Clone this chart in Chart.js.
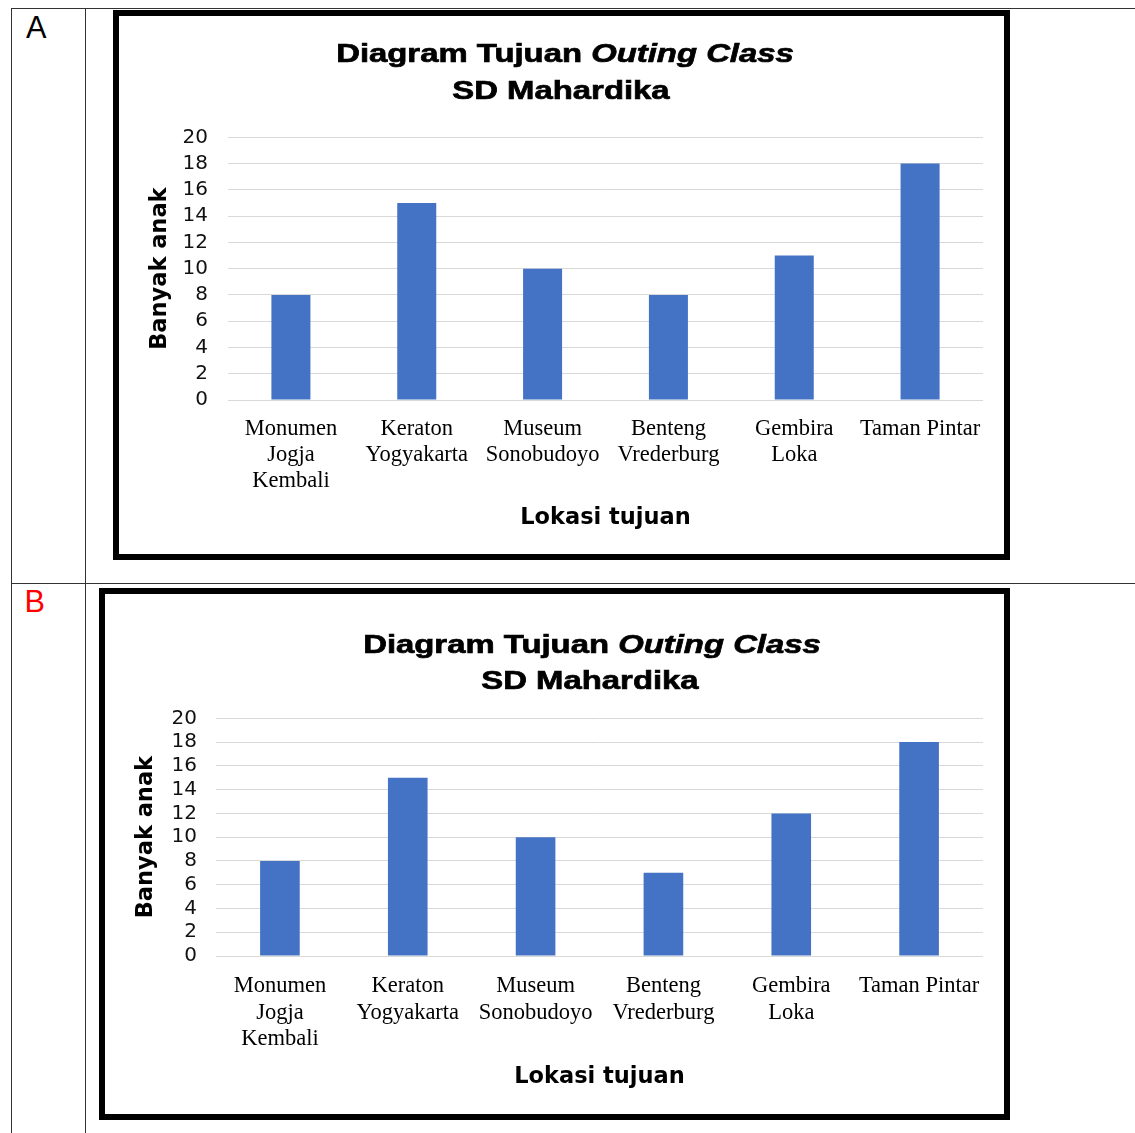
<!DOCTYPE html>
<html><head><meta charset="utf-8">
<script src="https://cdn.jsdelivr.net/npm/chart.js@4.4.1/dist/chart.umd.min.js"></script>
<style>
html,body{margin:0;padding:0;background:#fff;}
body{width:1135px;height:1133px;position:relative;overflow:hidden;font-family:'Liberation Sans',Arial,sans-serif;}
.ln{position:absolute;background:#333;}
.frame{position:absolute;box-sizing:border-box;border:6px solid #000;background:#fff;}
.frame canvas{position:absolute;left:0;top:0;}
.ttl{position:absolute;white-space:nowrap;font-weight:bold;font-size:26.5px;line-height:26.5px;color:#000;-webkit-text-stroke:0.7px #000;transform:translateX(-50%) scaleX(1.24);}
.ttl i{font-style:italic;}
.tag{position:absolute;font-size:30.7px;line-height:30.7px;}
</style></head>
<body>
<div class="ln" style="left:11px;top:8px;width:1124px;height:1px;"></div>
<div class="ln" style="left:11px;top:583px;width:1124px;height:1px;"></div>
<div class="ln" style="left:11px;top:8px;width:1px;height:1125px;"></div>
<div class="ln" style="left:85px;top:8px;width:1px;height:1125px;"></div>
<div class="tag" style="left:26px;top:13px;color:#000;">A</div>
<div class="tag" style="left:24.5px;top:587px;color:#ff0000;">B</div>

<div class="frame" style="left:113px;top:10px;width:897px;height:550px;">
  <canvas id="chartA" width="885" height="538"></canvas>
</div>
<div class="frame" style="left:99px;top:588px;width:911px;height:532px;">
  <canvas id="chartB" width="899" height="520"></canvas>
</div>

<div class="ttl" style="left:565px;top:40px;">Diagram Tujuan <i>Outing Class</i></div>
<div class="ttl" style="left:561px;top:76.5px;">SD Mahardika</div>
<div class="ttl" style="left:592px;top:630.5px;">Diagram Tujuan <i>Outing Class</i></div>
<div class="ttl" style="left:590px;top:666.5px;">SD Mahardika</div>

<script>
const categories = [
  ['Monumen', 'Jogja', 'Kembali'],
  ['Keraton', 'Yogyakarta'],
  ['Museum', 'Sonobudoyo'],
  ['Benteng', 'Vrederburg'],
  ['Gembira', 'Loka'],
  'Taman Pintar'
];
const valuesA = [8, 15, 10, 8, 11, 18];
const valuesB = [8, 15, 10, 7, 12, 18];
const yTickValues = [0, 2, 4, 6, 8, 10, 12, 14, 16, 18, 20];
const yTitle = 'Banyak anak';
const xTitle = 'Lokasi tujuan';

function makeChart(id, values, g) {
  return new Chart(document.getElementById(id), {
    type: 'bar',
    data: {
      labels: categories,
      datasets: [{ data: values, backgroundColor: '#4472C4', borderWidth: 0, barPercentage: 0.31, categoryPercentage: 1 }]
    },
    options: {
      responsive: false,
      animation: false,
      devicePixelRatio: 1,
      layout: { padding: { left: 0, top: g.top, right: g.right, bottom: g.bottom } },
      plugins: { legend: { display: false }, tooltip: { enabled: false } },
      scales: {
        x: {
          grid: { display: false, drawTicks: false },
          border: { display: false },
          ticks: { autoSkip: false, maxRotation: 0, minRotation: 0, padding: g.xpad, color: '#000',
                   font: { family: 'Liberation Serif', size: 22.5, lineHeight: 1.16 } },
          title: { display: true, text: xTitle, color: '#000', padding: 0,
                   font: { family: 'DejaVu Sans', weight: 'bold', size: 22.5, lineHeight: 1.2 } },
          afterFit(s) { s.height = g.xh; }
        },
        y: {
          min: 0, max: 20,
          grid: { color: '#d9d9d9', lineWidth: 1, drawTicks: false },
          border: { display: false },
          ticks: { autoSkip: false, padding: g.ypad, color: '#111', font: { family: 'DejaVu Sans', size: 20 } },
          afterBuildTicks(s) { s.ticks = yTickValues.map(v => ({ value: v })); },
          title: { display: true, text: yTitle, color: '#000', padding: { top: 27.5, bottom: 0 },
                   font: { family: 'DejaVu Sans', weight: 'bold', size: 22.5, lineHeight: 1.2 } },
          afterFit(s) { s.width = g.yw; }
        }
      }
    }
  });
}

makeChart('chartA', valuesA, { top: 121.3, right: 21, bottom: 22, xh: 132, yw: 109, xpad: 16, ypad: 20 });
makeChart('chartB', valuesB, { top: 124.3, right: 21, bottom: 23.5, xh: 134.5, yw: 111, xpad: 17.5, ypad: 19 });
</script>
</body></html>
